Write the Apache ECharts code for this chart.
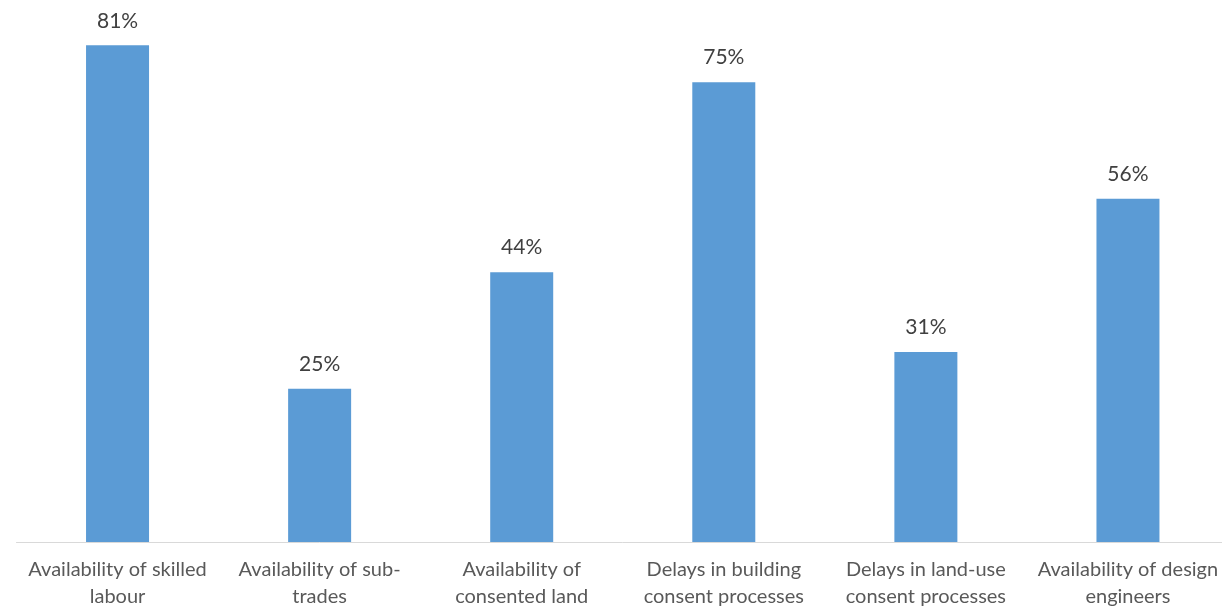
<!DOCTYPE html>
<html>
<head>
<meta charset="utf-8">
<script src="https://cdn.jsdelivr.net/npm/echarts@6/dist/echarts.min.js"></script>
<style>
  html, body { margin: 0; padding: 0; background: #ffffff; overflow: hidden; }
  #chart { width: 1229px; height: 607px; }
</style>
</head>
<body>
<div id="chart"></div>
<script>
// Constraints on housing delivery: share of respondents citing each factor
const categories = [
  'Availability of skilled\nlabour',
  'Availability of sub-\ntrades',
  'Availability of\nconsented land',
  'Delays in building\nconsent processes',
  'Delays in land-use\nconsent processes',
  'Availability of design\nengineers'
];
const shares = [0.81, 0.25, 0.44, 0.75, 0.31, 0.56];

const chart = echarts.init(document.getElementById('chart'), null, {
  renderer: 'canvas', width: 1229, height: 607
});

chart.setOption({
  animation: false,
  backgroundColor: '#ffffff',
  textStyle: { fontFamily: 'Lato, "Open Sans", sans-serif' },
  grid: {
    left: 16.5, right: 0, top: 0, bottom: 65,
    containLabel: false,
    outerBoundsMode: 'none'
  },
  xAxis: {
    type: 'category',
    data: categories,
    axisLine: { show: true, lineStyle: { color: '#d9d9d9', width: 1 } },
    axisTick: { show: false },
    axisLabel: {
      color: '#595959',
      fontSize: 20,
      lineHeight: 27,
      margin: 14,
      interval: 0,
      align: 'center'
    }
  },
  yAxis: {
    type: 'value',
    min: 0,
    max: 0.884,
    show: false,
    splitLine: { show: false }
  },
  series: [{
    type: 'bar',
    data: shares,
    barWidth: 63,
    itemStyle: { color: '#5b9bd5' },
    label: {
      show: true,
      position: 'top',
      distance: 14,
      color: '#404040',
      fontSize: 21,
      formatter: p => Math.round(p.value * 100) + '%'
    }
  }]
});
</script>
</body>
</html>
